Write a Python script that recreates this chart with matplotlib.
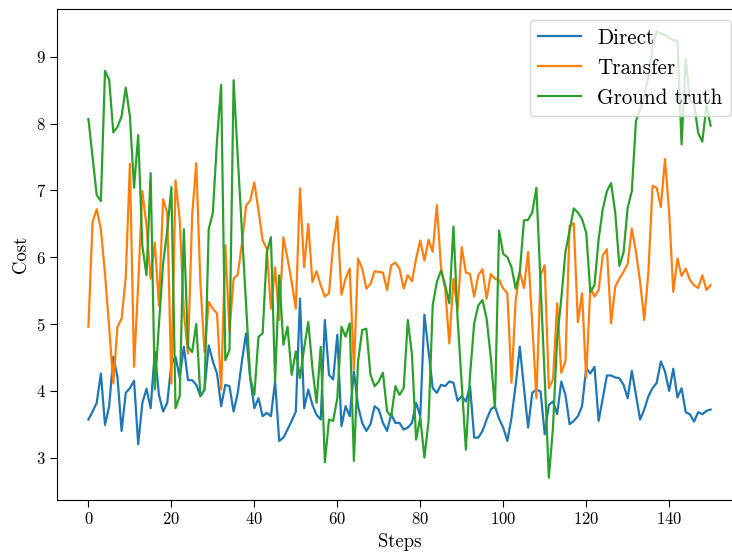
import numpy as np
import matplotlib
matplotlib.use("Agg")
import matplotlib.pyplot as plt

plt.rcParams["font.family"] = "serif"
plt.rcParams["font.serif"] = ["cmr10"]
plt.rcParams["mathtext.fontset"] = "cm"
plt.rcParams["axes.formatter.use_mathtext"] = True
plt.rcParams["axes.unicode_minus"] = False

# cost per step for each planner
direct = [
    3.57, 3.69, 3.82, 4.26, 3.49, 3.77, 4.51, 4.21, 3.40, 3.97,
    4.04, 4.15, 3.20, 3.82, 4.03, 3.74, 4.59, 3.94, 3.69, 3.82,
    4.40, 4.51, 4.20, 4.66, 4.16, 4.16, 4.09, 3.92, 4.02, 4.68,
    4.44, 4.26, 3.77, 4.09, 4.07, 3.69, 3.97, 4.44, 4.86, 4.19,
    3.74, 3.89, 3.62, 3.67, 3.62, 4.14, 3.25, 3.30, 3.42, 3.55,
    3.69, 5.38, 3.74, 4.02, 3.79, 3.64, 3.57, 5.06, 4.24, 4.17,
    4.84, 3.47, 3.77, 3.62, 4.29, 3.77, 3.52, 3.40, 3.50, 3.77,
    3.72, 3.52, 3.40, 3.65, 3.52, 3.52, 3.42, 3.45, 3.52, 3.82,
    3.62, 5.14, 4.59, 4.04, 3.97, 4.09, 4.07, 4.14, 4.12, 3.85,
    3.92, 3.84, 4.07, 3.30, 3.30, 3.40, 3.57, 3.72, 3.77, 3.58,
    3.45, 3.25, 3.60, 4.09, 4.66, 4.04, 3.45, 3.97, 4.02, 3.99,
    3.35, 3.79, 3.84, 3.65, 4.14, 3.94, 3.50, 3.55, 3.62, 3.77,
    4.34, 4.26, 4.36, 3.55, 3.89, 4.23, 4.23, 4.20, 4.19, 4.09,
    3.89, 4.30, 3.94, 3.57, 3.72, 3.92, 4.04, 4.12, 4.44, 4.29,
    4.00, 4.33, 3.90, 4.04, 3.68, 3.65, 3.54, 3.68, 3.65, 3.70,
    3.72,
]

transfer = [
    4.96, 6.53, 6.72, 6.42, 5.75, 4.95, 4.11, 4.96, 5.08, 5.70,
    7.40, 4.36, 5.60, 6.99, 6.47, 5.68, 6.22, 5.28, 6.87, 6.67,
    4.11, 7.15, 6.57, 5.18, 4.56, 6.62, 7.41, 5.60, 4.58, 5.33,
    5.23, 5.16, 4.02, 6.18, 4.89, 5.68, 5.74, 6.20, 6.77, 6.85,
    7.12, 6.70, 6.25, 6.13, 5.23, 5.85, 5.06, 6.30, 5.98, 5.63,
    5.23, 7.03, 5.85, 6.50, 5.63, 5.79, 5.58, 5.41, 5.46, 6.18,
    6.61, 5.44, 5.68, 5.83, 4.32, 5.98, 5.83, 5.53, 5.60, 5.79,
    5.78, 5.77, 5.51, 5.88, 5.92, 5.83, 5.53, 5.73, 5.64, 5.98,
    6.25, 5.95, 6.26, 6.08, 6.78, 5.85, 5.53, 4.71, 5.68, 5.21,
    6.15, 5.77, 5.75, 5.41, 5.73, 5.82, 5.38, 5.75, 5.68, 5.66,
    5.53, 5.46, 4.12, 5.36, 5.78, 5.54, 6.08, 5.00, 3.89, 5.73,
    5.88, 4.04, 4.17, 5.31, 4.27, 4.44, 6.47, 6.51, 5.03, 5.46,
    4.19, 5.55, 5.41, 5.51, 6.03, 6.12, 5.01, 5.56, 5.68, 5.78,
    5.90, 6.43, 6.08, 5.63, 5.06, 5.78, 7.07, 7.04, 6.75, 7.47,
    6.67, 5.48, 5.98, 5.72, 5.83, 5.66, 5.58, 5.54, 5.73, 5.51,
    5.58,
]

ground_truth = [
    8.07, 7.50, 6.93, 6.84, 8.79, 8.66, 7.87, 7.95, 8.11, 8.54,
    8.11, 7.04, 7.83, 6.17, 5.73, 7.26, 4.02, 5.00, 5.90, 6.40,
    7.05, 3.74, 3.92, 6.42, 4.66, 4.58, 5.00, 3.92, 4.02, 6.42,
    6.67, 7.75, 8.58, 4.46, 4.61, 8.65, 7.50, 6.40, 5.30, 4.20,
    3.94, 4.81, 4.86, 6.07, 6.30, 4.14, 5.73, 4.69, 4.96, 4.24,
    4.59, 4.19, 4.64, 5.03, 4.34, 3.82, 4.66, 2.93, 3.57, 3.55,
    3.89, 4.96, 4.81, 5.01, 2.95, 4.44, 4.91, 4.93, 4.24, 4.07,
    4.14, 4.27, 3.69, 3.62, 4.07, 3.94, 4.04, 5.06, 4.54, 3.27,
    3.60, 3.00, 3.55, 5.28, 5.63, 5.80, 5.58, 5.31, 6.46, 5.08,
    4.09, 3.12, 4.24, 5.01, 5.28, 5.36, 5.08, 4.50, 3.74, 6.40,
    6.05, 6.00, 5.85, 5.53, 5.78, 6.55, 6.56, 6.67, 7.04, 5.60,
    4.20, 2.70, 3.45, 4.79, 5.38, 6.08, 6.40, 6.73, 6.67, 6.57,
    6.37, 5.48, 5.58, 6.27, 6.72, 6.99, 7.11, 6.67, 5.87, 6.07,
    6.74, 6.99, 8.04, 8.21, 8.41, 8.71, 9.15, 9.38, 9.35, 9.33,
    9.28, 9.25, 9.24, 7.69, 8.97, 8.34, 8.31, 7.86, 7.73, 8.27,
    7.97,
]

steps = np.arange(len(direct))

fig = plt.figure(figsize=(7.32, 5.54), dpi=100)
# axes runs slightly past the right edge of the canvas
ax = fig.add_axes([0.0783, 0.0975, 0.935, 0.886])

ax.plot(steps, direct, label="Direct", lw=1.6)
ax.plot(steps, transfer, label="Transfer", lw=1.6)
ax.plot(steps, ground_truth, label="Ground truth", lw=1.6)

ax.set_xlabel("Steps", fontsize=13.5)
ax.set_ylabel("Cost", fontsize=13.5)
ax.set_xticks(range(0, 160, 20))
ax.tick_params(labelsize=12, length=4.7)
ax.legend(loc="upper right", fontsize=15.2)

fig.savefig("out.png", dpi=100)
